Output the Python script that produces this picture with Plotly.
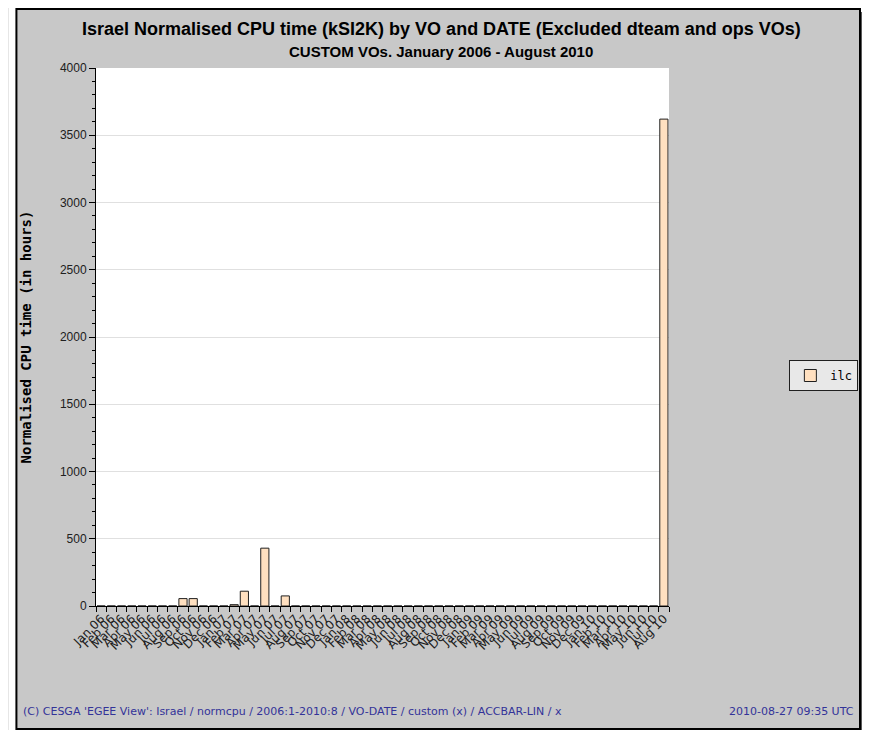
import plotly.graph_objects as go

months = ["Jan", "Feb", "Mar", "Apr", "May", "Jun", "Jul", "Aug", "Sep", "Oct", "Nov", "Dec"]
categories = []
for yr in ["06", "07", "08", "09", "10"]:
    for m in months:
        categories.append(f"{m} {yr}")
categories = categories[:56]  # Jan 06 .. Aug 10

ilc_values = [0, 0, 0, 0, 0, 0, 0, 0, 55, 55, 0, 0,
              0, 10, 110, 0, 430, 0, 75, 0, 0, 0, 0, 0,
              0, 0, 0, 0, 0, 0, 0, 0, 0, 0, 0, 0,
              0, 0, 0, 0, 0, 0, 0, 0, 0, 0, 0, 0,
              0, 0, 0, 0, 0, 0, 0, 3620]

OFF = 8  # browser body margin
W, H = 870 - OFF, 730 - OFF
L, R, T, B = 96 - OFF, 672 - OFF, 68 - OFF, 606 - OFF

def px(x):
    # x given in reference-image pixels
    return (x - OFF - L) / (R - L)

def py(y):
    return (B - (y - OFF)) / (B - T)

fig = go.Figure()
fig.add_trace(go.Bar(
    x=categories, y=ilc_values, name="ilc",
    marker=dict(color="#ffe0c0", line=dict(color="#202020", width=1)),
))

shapes = [
    dict(type="rect", xref="paper", yref="paper", x0=px(8), x1=px(16), y0=py(740), y1=py(0),
         fillcolor="white", line=dict(width=0), layer="above"),
    dict(type="rect", xref="paper", yref="paper", x0=px(864), x1=px(871), y0=py(740), y1=py(12),
         fillcolor="#5a5a5a", line=dict(width=0), layer="above"),
    dict(type="rect", xref="paper", yref="paper", x0=px(864), x1=px(871), y0=py(12), y1=py(0),
         fillcolor="white", line=dict(width=0), layer="above"),
    dict(type="rect", xref="paper", yref="paper", x0=px(16), x1=px(864), y0=py(729), y1=py(9),
         fillcolor="rgba(0,0,0,0)", line=dict(color="black", width=2), layer="above"),
]

annotations = [
    dict(text="<b>Israel Normalised CPU time (kSI2K) by VO and DATE (Excluded dteam and ops VOs)</b>",
         xref="paper", yref="paper", x=px(443), y=py(17), showarrow=False,
         font=dict(family="Liberation Sans, Arial", size=18, color="black")),
    dict(text="<b>CUSTOM VOs. January 2006 - August 2010</b>",
         xref="paper", yref="paper", x=px(443), y=py(41), showarrow=False,
         font=dict(family="Liberation Sans, Arial", size=15, color="black")),
    dict(text="(C) CESGA 'EGEE View': Israel / normcpu / 2006:1-2010:8 / VO-DATE / custom (x) / ACCBAR-LIN / x",
         xref="paper", yref="paper", x=px(21), y=py(720), xanchor="left", showarrow=False,
         font=dict(family="DejaVu Sans", size=11, color="#333399")),
    dict(text="2010-08-27 09:35 UTC",
         xref="paper", yref="paper", x=px(860), y=py(720), xanchor="right", showarrow=False,
         font=dict(family="DejaVu Sans", size=11, color="#333399")),
]

fig.update_layout(
    width=W, height=H,
    margin=dict(l=L, r=W - R, t=T, b=H - B, pad=0),
    paper_bgcolor="#c8c8c8",
    plot_bgcolor="white",
    bargap=0.2,
    showlegend=True,
    legend=dict(x=px(793), y=py(360), xanchor="left", yanchor="top",
                bgcolor="#e8e8e8", bordercolor="#202020", borderwidth=1,
                font=dict(family="DejaVu Sans Mono", size=12, color="black")),
    shapes=shapes,
    annotations=annotations,
    xaxis=dict(
        type="category", tickangle=-45, tickson="boundaries",
        tickmode="linear", tick0=0, dtick=1,
        ticks="outside", ticklen=5, tickcolor="black",
        showline=True, linecolor="black", linewidth=1,
        showgrid=False,
        tickfont=dict(family="DejaVu Sans", size=12, color="#202020"),
    ),
    yaxis=dict(
        range=[0, 4000], dtick=500, tick0=0,
        ticks="outside", ticklen=6, tickcolor="black",
        showline=True, linecolor="black", linewidth=1,
        showgrid=True, gridcolor="#e0e0e0", zeroline=False,
        minor=dict(dtick=100, ticks="outside", ticklen=3, tickcolor="black", showgrid=False),
        tickfont=dict(family="Liberation Sans, Arial", size=12, color="#202020"),
        title=dict(text="<b>Normalised CPU time (in hours)</b>",
                   font=dict(family="DejaVu Sans Mono", size=14, color="black"), standoff=24),
    ),
)

fig.write_html("out.html")
